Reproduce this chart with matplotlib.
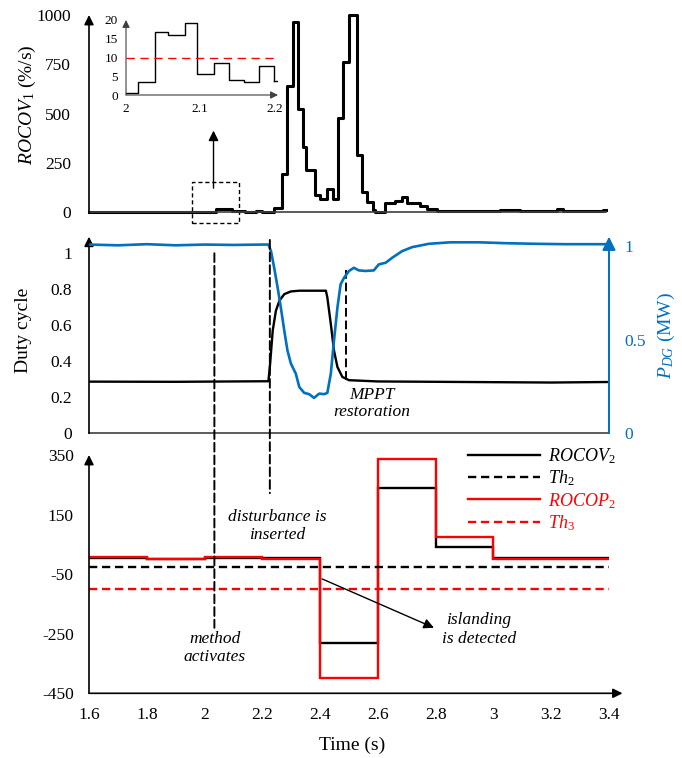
# Islanding detection figure: ROCOV1, duty cycle / P_DG, ROCOV2 / ROCOP2

import matplotlib.pyplot as plt
from matplotlib.patches import ConnectionPatch, Rectangle

plt.rcParams['font.family'] = ['Liberation Serif', 'DejaVu Serif']
plt.rcParams['mathtext.fontset'] = 'custom'
plt.rcParams['mathtext.rm'] = 'Liberation Serif'
plt.rcParams['mathtext.it'] = 'Liberation Serif:italic'

# --------------------------------------
# data

# top panel: ROCOV1 (%/s), step values starting at each time
rocov1_t = [1.6, 2.0, 2.016, 2.039, 2.056, 2.079, 2.096, 2.119, 2.139, 2.159,
            2.179, 2.199, 2.24, 2.268, 2.285, 2.306, 2.322, 2.342, 2.352, 2.383,
            2.4, 2.423, 2.444, 2.463, 2.48, 2.50, 2.527, 2.544, 2.561, 2.582,
            2.59, 2.625, 2.659, 2.682, 2.70, 2.723, 2.746, 2.769, 2.804, 2.838,
            2.953, 3.023, 3.092, 3.219, 3.24, 3.38, 3.39]
rocov1 = [0.5, 0.5, 3.5, 16.7, 15.9, 19.1, 5.5, 8.6, 3.9, 3.6,
          7.7, 3.7, 20, 194, 640, 966, 522, 333, 214, 88,
          66, 117, 66, 476, 763, 1000, 290, 104, 54, 12,
          2, 49, 57, 76, 49, 45, 32, 15, 9, 5,
          7, 10, 5, 15, 5, 10, 10]
rocov1_ticks = [0, 250, 500, 750, 1000]

inset_ticks_x = [2, 2.1, 2.2]
inset_labels_x = ['2', '2.1', '2.2']
inset_ticks_y = [0, 5, 10, 15, 20]
th1 = 10

# middle panel
duty_t = [1.6, 1.9, 2.2, 2.221, 2.227, 2.236, 2.247, 2.259, 2.276, 2.299, 2.328,
          2.420, 2.425, 2.437, 2.448, 2.46, 2.477, 2.5, 2.6, 3.0, 3.2, 3.4]
duty = [0.287, 0.286, 0.289, 0.289, 0.387, 0.571, 0.681, 0.736, 0.773, 0.788, 0.792,
        0.792, 0.755, 0.608, 0.46, 0.368, 0.313, 0.295, 0.288, 0.284, 0.282, 0.285]

pdg_t = [1.6, 1.7, 1.8, 1.9, 2.0, 2.1, 2.2, 2.221, 2.230, 2.241, 2.253, 2.264,
         2.276, 2.287, 2.299, 2.316, 2.328, 2.345, 2.362, 2.379, 2.397, 2.414,
         2.425, 2.437, 2.448, 2.460, 2.471, 2.483, 2.5, 2.517, 2.534, 2.558,
         2.586, 2.603, 2.627, 2.649, 2.684, 2.718, 2.776, 2.85, 2.95, 3.05,
         3.15, 3.25, 3.4]
pdg = [1.008, 1.004, 1.010, 1.004, 1.008, 1.006, 1.008, 1.008, 0.973, 0.884,
       0.778, 0.672, 0.548, 0.442, 0.372, 0.318, 0.247, 0.216, 0.209, 0.189,
       0.212, 0.209, 0.216, 0.318, 0.495, 0.672, 0.796, 0.831, 0.867, 0.884,
       0.87, 0.867, 0.87, 0.902, 0.911, 0.937, 0.973, 0.994, 1.012, 1.02,
       1.02, 1.015, 1.012, 1.01, 1.01]

duty_ticks = [0, 0.2, 0.4, 0.6, 0.8, 1]
duty_labels = ['0', '0.2', '0.4', '0.6', '0.8', '1']
pdg_ticks = [0, 0.5, 1]
pdg_labels = ['0', '0.5', '1']

# bottom panel: values held over each 0.2 s window
edges = [1.6, 1.8, 2.0, 2.2, 2.4, 2.6, 2.8, 3.0, 3.2, 3.4]
rocov2 = [3, 0, 5, 5, -280, 240, 40, 5, 3]
rocop2 = [8, 0, 7, 2, -400, 337, 74, 1, 1]
th2 = -27
th3 = -100
time_ticks = [1.6, 1.8, 2.0, 2.2, 2.4, 2.6, 2.8, 3.0, 3.2, 3.4]
time_labels = ['1.6', '1.8', '2', '2.2', '2.4', '2.6', '2.8', '3', '3.2', '3.4']
rate_ticks = [350, 150, -50, -250, -450]

# event markers (time)
t_method = 2.034
t_disturb = 2.226
t_mppt = 2.49

BLUE = '#0070C0'
RED = '#FF0000'
W, H = 682, 758

# --------------------------------------

def box(x0, y0, x1, y1):
    """Axes rectangle from pixel corners of the picture."""
    return [x0 / W, 1 - y1 / H, (x1 - x0) / W, (y1 - y0) / H]


def axis_arrow(ax, start, end, color='k', lw=1.2, size=14):
    ax.annotate('', xy=end, xytext=start, xycoords='axes fraction',
                arrowprops=dict(arrowstyle='-|>', color=color, lw=lw,
                                mutation_scale=size, shrinkA=0, shrinkB=0))


def bare(ax):
    for s in ax.spines.values():
        s.set_visible(False)
    ax.tick_params(length=0, labelsize=12.5)


fig = plt.figure(figsize=(6.82, 7.58), dpi=100)

# ---------------- top panel
ax1 = fig.add_axes(box(89, 15, 609, 212.3))
bare(ax1)
ax1.step(rocov1_t, rocov1, where='post', color='k', lw=2.2, clip_on=False)
ax1.set_xlim(1.6, 3.4)
ax1.set_ylim(0, 1000)
ax1.set_xticks([])
ax1.set_yticks(rocov1_ticks)
ax1.tick_params(axis='y', pad=13)
ax1.spines['bottom'].set_visible(True)
ax1.spines['bottom'].set_bounds(1.6, rocov1_t[-1])
ax1.spines['bottom'].set_color('#404040')
ax1.spines['bottom'].set_linewidth(1.2)
axis_arrow(ax1, (0, 0), (0, 1.0))
ax1.add_patch(Rectangle((1.955, -53), 0.165, 208, fill=False, ls=(0, (3, 2)),
                        lw=1, color='k', clip_on=False))
ax1.annotate('', xy=(2.031, 414), xytext=(2.031, 122),
             arrowprops=dict(arrowstyle='-|>', color='k', lw=1,
                             mutation_scale=15, shrinkA=0, shrinkB=0))
fig.text(27 / W, 1 - 105 / H, r'$ROCOV_1$ (%/s)', rotation=90,
         ha='center', va='center', fontsize=14)

# inset
axi = fig.add_axes(box(126, 20, 278, 95))
bare(axi)
axi.patch.set_alpha(0)
axi.step(rocov1_t[1:12], rocov1[1:12], where='post', color='k', lw=1)
axi.plot([rocov1_t[11], 2.204], [rocov1[11], rocov1[11]], color='k', lw=1)
axi.axhline(th1, color=RED, lw=1, ls=(0, (6, 4)))
axi.set_xlim(2, 2.205)
axi.set_ylim(0, 20)
axi.set_xticks(inset_ticks_x)
axi.set_xticklabels(inset_labels_x)
axi.set_yticks(inset_ticks_y)
axi.tick_params(labelsize=9.5, pad=6)
axis_arrow(axi, (0, 0), (0, 1), color='#404040', lw=0.8, size=11)
axis_arrow(axi, (0, 0), (1, 0), color='#404040', lw=0.8, size=11)

# ---------------- middle panel
ax2 = fig.add_axes(box(89, 236.7, 609, 433.3))
bare(ax2)
ax2.plot(duty_t, duty, color='k', lw=1.7)
ax2.set_xlim(1.6, 3.4)
ax2.set_ylim(0, 1.092)
ax2.set_xticks([])
ax2.set_yticks(duty_ticks)
ax2.set_yticklabels(duty_labels)
ax2.tick_params(axis='y', pad=12)
ax2.spines['bottom'].set_visible(True)
ax2.spines['bottom'].set_color('#404040')
ax2.spines['bottom'].set_linewidth(1.2)
axis_arrow(ax2, (0, 0), (0, 1))

ax2r = ax2.twinx()
bare(ax2r)
ax2r.plot(pdg_t, pdg, color=BLUE, lw=1.9)
ax2r.set_ylim(0, 1.05)
ax2r.set_yticks(pdg_ticks)
ax2r.set_yticklabels(pdg_labels)
ax2r.tick_params(axis='y', colors=BLUE, pad=11)
axis_arrow(ax2r, (1, 0), (1, 1), color=BLUE, lw=1.4, size=20)

ax2.plot([t_mppt, t_mppt], [0.907, 0.29], color='k', lw=1.4, ls=(0, (4.5, 2)))
ax2.text(2.58, 0.165, 'MPPT\nrestoration', style='italic', fontsize=12.5,
         ha='center', va='center', linespacing=1.15)

fig.text(24 / W, 1 - 330 / H, 'Duty cycle', rotation=90,
         ha='center', va='center', fontsize=14)
fig.text(666 / W, 1 - 335 / H, r'$P_{DG}$ (MW)', rotation=90,
         ha='center', va='center', fontsize=14, color=BLUE)

# ---------------- bottom panel
ax3 = fig.add_axes(box(89, 455, 609, 693.3))
bare(ax3)
ax3.stairs(rocov2, edges, baseline=None, color='k', lw=1.7, label=r'$ROCOV_2$')
ax3.axhline(th2, color='k', lw=1.7, ls=(0, (3.5, 2)), label=r'$Th_2$')
ax3.stairs(rocop2, edges, baseline=None, color=RED, lw=1.7, label=r'$ROCOP_2$')
ax3.axhline(th3, color=RED, lw=1.7, ls=(0, (3.5, 2)), label=r'$Th_3$')
ax3.set_xlim(1.6, 3.4)
ax3.set_ylim(-450, 350)
ax3.set_xticks(time_ticks)
ax3.set_xticklabels(time_labels)
ax3.set_yticks(rate_ticks)
ax3.set_yticklabels([str(v) for v in rate_ticks])
ax3.tick_params(axis='y', pad=11)
ax3.tick_params(axis='x', pad=10)
axis_arrow(ax3, (0, 0), (0, 1.0))
axis_arrow(ax3, (0, 0), (1.026, 0))

leg = ax3.legend(loc='upper left',
                 bbox_to_anchor=(468 / W, 1 - 446 / H), bbox_transform=fig.transFigure,
                 frameon=False, fontsize=13, handlelength=4.0, handletextpad=0.45,
                 labelspacing=0.15, borderpad=0, borderaxespad=0)
for txt, c in zip(leg.get_texts(), ['k', 'k', RED, RED]):
    txt.set_color(c)

ax3.text(2.25, 111, 'disturbance is\ninserted', style='italic', fontsize=12.5,
         ha='center', va='center', linespacing=1.2)
ax3.text(2.036, -298, 'method\nactivates', style='italic', fontsize=12.5,
         ha='center', va='center', linespacing=1.2)
ax3.text(2.95, -236, 'islanding\nis detected', style='italic', fontsize=12.5,
         ha='center', va='center', linespacing=1.2)
ax3.annotate('', xy=(2.794, -230), xytext=(2.407, -66),
             arrowprops=dict(arrowstyle='-|>', color='k', lw=1,
                             mutation_scale=15, shrinkA=0, shrinkB=0))

fig.text(352 / W, 1 - 745 / H, 'Time (s)', ha='center', va='center', fontsize=14)

# dashed event lines running through the middle and bottom panels
for t, y_top, y_bot in [(t_method, 1.0, -230), (t_disturb, 1.074, 222)]:
    con = ConnectionPatch(xyA=(t, y_top), coordsA=ax2.transData,
                          xyB=(t, y_bot), coordsB=ax3.transData,
                          color='k', lw=1.4, ls=(0, (4.5, 2)))
    fig.add_artist(con)

fig.savefig('out.png', dpi=100)
